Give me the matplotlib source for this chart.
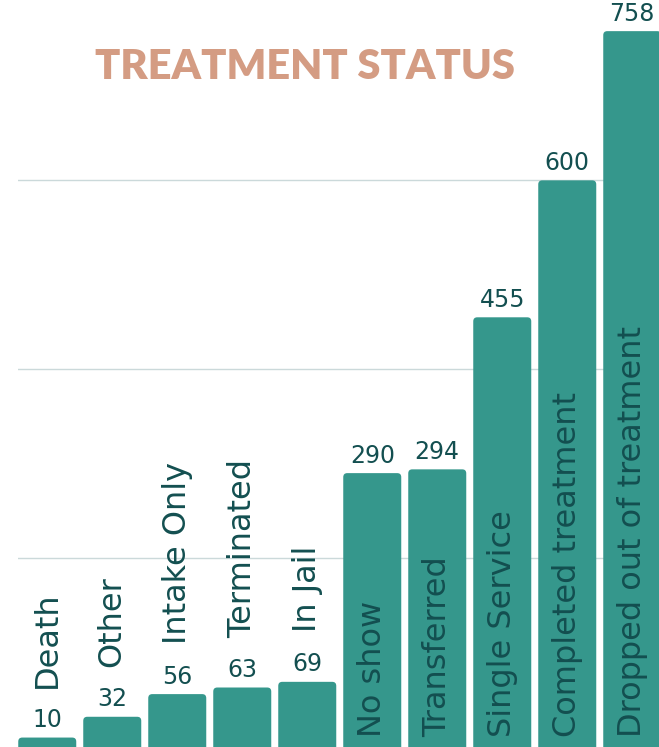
import matplotlib
matplotlib.use("Agg")
import matplotlib.pyplot as plt
from matplotlib.patches import FancyBboxPatch

# data
categories = ["Death", "Other", "Intake Only", "Terminated", "In Jail", "No show",
              "Transferred", "Single Service", "Completed treatment", "Dropped out of treatment"]
counts = [10, 32, 56, 63, 69, 290, 294, 455, 600, 758]
grid_values = [200, 400, 600]

bar_color = "#35978c"
text_color = "#134f50"
title_color = "#d49c83"
grid_color = "#cbd9da"

W, H = 659, 747
fig = plt.figure(figsize=(W / 100, H / 100), dpi=100)
fig.patch.set_facecolor("white")

# axes spans from the first bar's left edge to the right border
ax = fig.add_axes([18 / W, 0, 1 - 18 / W, 1])
px_x = 65.0          # pixels per category
px_y = 0.9444        # pixels per unit
ax.set_xlim(-0.45, -0.45 + (W - 18) / px_x)
ax.set_ylim(0, H / px_y)
ax.axis("off")

for g in grid_values:
    ax.axhline(g, color=grid_color, lw=1, zorder=0)

x = list(range(len(categories)))
bars = ax.bar(x, counts, width=58 / px_x, color=bar_color, zorder=2)

# swap plain bars for ones with rounded tops
r_x = 4 / px_x
r_y = 4 / px_y
for b in bars:
    fb = FancyBboxPatch((b.get_x(), b.get_y() - r_y), b.get_width(), b.get_height() + r_y,
                        boxstyle=f"round,pad=0,rounding_size={r_x}",
                        mutation_aspect=r_y / r_x, fc=bar_color, ec="none", zorder=2)
    ax.add_patch(fb)
    b.remove()

fig.canvas.draw()
renderer = fig.canvas.get_renderer()

for xi, v, name in zip(x, counts, categories):
    ax.annotate(str(v), (xi, v), xytext=(0, 4), textcoords="offset points",
                ha="center", va="bottom", fontsize=17, color=text_color, zorder=3)
    lab = ax.annotate(name, (xi, 0), xytext=(0, 7.5), textcoords="offset points",
                      rotation=90, ha="center", va="bottom", fontsize=23,
                      color=text_color, zorder=3)
    ext = lab.get_window_extent(renderer)
    bar_top = ax.transData.transform((xi, v))[1]
    if ext.y1 > bar_top - 10:
        # does not fit inside: put it above the value label
        lab.xy = (xi, v)
        lab.xyann = (0, 36)

fig.text(305 / W, 1 - 67 / H, "TREATMENT STATUS", ha="center", va="center",
         fontsize=30, fontweight="heavy", family="Lato", color=title_color)

fig.savefig("out.png", dpi=100)
